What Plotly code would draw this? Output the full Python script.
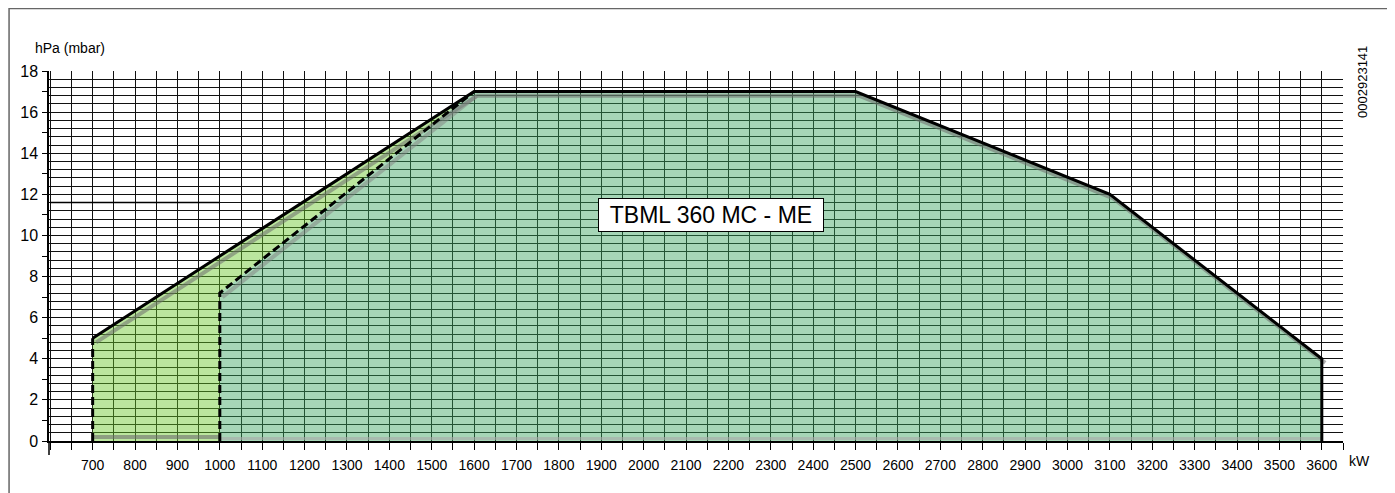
import plotly.graph_objects as go

# ---- data ----
outer_x = [700, 1600, 2500, 3100, 3600, 3600]
outer_y = [5, 17, 17, 12, 4, 0]
left_dash_x = [700, 700]
left_dash_y = [0, 5]
inner_x = [1000, 1000, 1600]
inner_y = [0, 7.2, 17]
green_x = [700, 700, 1600, 1000, 1000]
green_y = [0, 5, 17, 7.2, 0]
teal_x = [1000, 1000, 1600, 2500, 3100, 3600, 3600]
teal_y = [0, 7.2, 17, 17, 12, 4, 0]
ref_x = [600, 1000]
ref_y = [11.6, 11.6]
x_ticks = list(range(600, 3651, 50))
x_tick_labels = [str(v) if (v % 100 == 0 and v >= 700) else "" for v in x_ticks]
y_labels = [0, 2, 4, 6, 8, 10, 12, 14, 16, 18]
y_grid = [round(i * 0.4, 1) for i in range(46)]
label_text = "TBML 360 MC - ME"
label_pos = (2160, 11.0)

FONT = "Liberation Sans, Arial, sans-serif"

fig = go.Figure()

# fills
fig.add_trace(go.Scatter(x=green_x, y=green_y, fill="toself", mode="none",
                         fillcolor="rgba(105,200,40,0.45)", hoverinfo="skip", showlegend=False))
fig.add_trace(go.Scatter(x=teal_x, y=teal_y, fill="toself", mode="none",
                         fillcolor="rgba(58,165,95,0.45)", hoverinfo="skip", showlegend=False))

# grey shadows
fig.add_trace(go.Scatter(x=[v + 8 for v in outer_x[:-1]], y=[v - 0.2 for v in outer_y[:-1]],
                         mode="lines", line=dict(color="rgba(110,110,110,0.55)", width=4),
                         hoverinfo="skip", showlegend=False))
fig.add_trace(go.Scatter(x=[left_dash_x[0], inner_x[0]], y=[0.2, 0.2], mode="lines",
                         line=dict(color="rgba(110,110,110,0.6)", width=4),
                         hoverinfo="skip", showlegend=False))
fig.add_trace(go.Scatter(x=[inner_x[0], outer_x[-1]], y=[0.12, 0.12], mode="lines",
                         line=dict(color="rgba(170,170,170,0.6)", width=3),
                         hoverinfo="skip", showlegend=False))
fig.add_trace(go.Scatter(x=[v + 6 for v in inner_x[1:]], y=[v - 0.2 for v in inner_y[1:]],
                         mode="lines", line=dict(color="rgba(130,130,130,0.5)", width=4),
                         hoverinfo="skip", showlegend=False))

# reference line
fig.add_trace(go.Scatter(x=ref_x, y=ref_y, mode="lines", line=dict(color="black", width=1.5),
                         hoverinfo="skip", showlegend=False))

# boundaries
fig.add_trace(go.Scatter(x=outer_x, y=outer_y, mode="lines", line=dict(color="black", width=3),
                         hoverinfo="skip", showlegend=False))
fig.add_trace(go.Scatter(x=left_dash_x, y=left_dash_y, mode="lines",
                         line=dict(color="black", width=3, dash="8px,4px"),
                         hoverinfo="skip", showlegend=False))
fig.add_trace(go.Scatter(x=inner_x, y=inner_y, mode="lines",
                         line=dict(color="black", width=3, dash="8px,4px"),
                         hoverinfo="skip", showlegend=False))

# page offset of 8px (body margin)
OFF = 8
PL, PR, PT, PB = 47, 1343, 71, 441   # plot area in page pixels
W, H = 1387, 485
L, T = PL - OFF, PT - OFF
R = W + OFF - PR
B = H + OFF - PB
pw, ph = PR - PL, PB - PT

def px(xp):
    return (xp - PL) / pw

def py(yp):
    return (PB - yp) / ph

fig.update_layout(
    width=W, height=H,
    margin=dict(l=L, r=R, t=T, b=B, pad=0),
    paper_bgcolor="white", plot_bgcolor="white",
    font=dict(family=FONT, color="black", size=14),
    xaxis=dict(range=[597, 3650], tickmode="array", tickvals=x_ticks, ticktext=x_tick_labels,
               showgrid=True, gridcolor="#111", gridwidth=1,
               ticks="outside", ticklen=7, tickcolor="black", tickwidth=1,
               showline=True, linecolor="black", linewidth=1.5,
               zeroline=False, tickfont=dict(family=FONT, size=14), ticklabelstandoff=3),
    yaxis=dict(range=[0, 18], tickmode="array", tickvals=y_grid,
               ticktext=[(str(int(v)) if v in y_labels else "") for v in y_grid],
               showgrid=True, gridcolor="#111", gridwidth=1,
               ticks="", showline=True, linecolor="black", linewidth=1.5,
               zeroline=False, tickfont=dict(family=FONT, size=16), ticklabelstandoff=6,
               minor=dict(tickvals=list(range(0, 19)), ticks="outside", ticklen=5,
                          tickcolor="black", showgrid=False)),
    showlegend=False,
)

# outer frame
fig.add_shape(type="rect", xref="paper", yref="paper",
              x0=px(7), x1=px(1390), y0=py(520), y1=py(8.5),
              line=dict(color="#666", width=1.5), fillcolor="rgba(0,0,0,0)", layer="below")
# y axis extension below 0
fig.add_shape(type="line", xref="paper", yref="paper", x0=0, x1=0, y0=py(455), y1=0,
              line=dict(color="black", width=1.5))

fig.add_annotation(text="hPa (mbar)", xref="paper", yref="paper", x=px(31), y=py(48),
                   xanchor="left", yanchor="middle", showarrow=False,
                   font=dict(family=FONT, size=14))
fig.add_annotation(text="kW", xref="paper", yref="paper", x=px(1347), y=py(461),
                   xanchor="left", yanchor="middle", showarrow=False,
                   font=dict(family=FONT, size=14))
fig.add_annotation(text="0002923141", xref="paper", yref="paper", x=px(1362), y=py(82),
                   xanchor="center", yanchor="middle", showarrow=False, textangle=-90,
                   font=dict(family=FONT, size=13))
fig.add_annotation(text=label_text, x=label_pos[0], y=label_pos[1], showarrow=False,
                   bgcolor="white", bordercolor="black", borderwidth=1,
                   width=222, height=30, align="center",
                   font=dict(family=FONT, size=23))

fig.write_html("out.html")
